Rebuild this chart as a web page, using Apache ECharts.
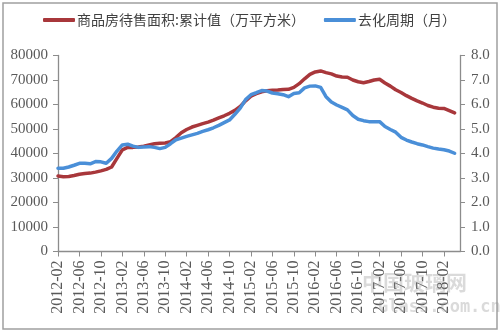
<!DOCTYPE html>
<html>
<head>
<meta charset="utf-8">
<script src="https://cdn.jsdelivr.net/npm/echarts@6/dist/echarts.min.js"></script>
<style>
html,body{margin:0;padding:0;background:#fff;}
#chart{width:500px;height:335px;}
</style>
</head>
<body>
<div id="chart"></div>
<script>
// Monthly categories 2012-02 .. 2018-05
const months = [
 '2012-02','2012-03','2012-04','2012-05','2012-06','2012-07','2012-08','2012-09','2012-10','2012-11','2012-12','2013-01',
 '2013-02','2013-03','2013-04','2013-05','2013-06','2013-07','2013-08','2013-09','2013-10','2013-11','2013-12','2014-01',
 '2014-02','2014-03','2014-04','2014-05','2014-06','2014-07','2014-08','2014-09','2014-10','2014-11','2014-12','2015-01',
 '2015-02','2015-03','2015-04','2015-05','2015-06','2015-07','2015-08','2015-09','2015-10','2015-11','2015-12','2016-01',
 '2016-02','2016-03','2016-04','2016-05','2016-06','2016-07','2016-08','2016-09','2016-10','2016-11','2016-12','2017-01',
 '2017-02','2017-03','2017-04','2017-05','2017-06','2017-07','2017-08','2017-09','2017-10','2017-11','2017-12','2018-01',
 '2018-02','2018-03','2018-04','2018-05'
];
const seriesNames = ['商品房待售面积:累计值（万平方米）', '去化周期（月）'];
// 商品房待售面积:累计值（万平方米）
const unsoldArea = [
 30800,30500,30600,31000,31500,31800,32000,32400,32900,33500,34500,38000,
 41500,42500,42500,42700,43000,43500,44000,44200,44300,44800,46500,48500,
 49800,50800,51500,52200,52800,53600,54500,55400,56400,57600,59200,61500,
 63400,64400,65200,65600,65800,65900,66100,66200,67000,68500,70500,72300,
 73300,73700,73000,72500,71600,71200,71100,70000,69300,68900,69400,70000,
 70300,68800,67500,66000,64900,63600,62500,61500,60600,59600,58900,58500,
 58400,57500,56600,null
];
// 去化周期（月）
const destockMonths = [
 3.40,3.40,3.45,3.52,3.60,3.60,3.58,3.67,3.66,3.60,3.80,4.10,
 4.35,4.38,4.30,4.25,4.27,4.28,4.25,4.20,4.25,4.40,4.56,4.63,
 4.70,4.76,4.82,4.90,4.97,5.05,5.15,5.26,5.37,5.60,5.85,6.20,
 6.40,6.48,6.57,6.55,6.47,6.44,6.40,6.32,6.45,6.48,6.68,6.75,
 6.76,6.70,6.32,6.10,5.98,5.88,5.78,5.55,5.40,5.34,5.30,5.30,
 5.30,5.10,4.98,4.87,4.66,4.55,4.47,4.40,4.35,4.28,4.22,4.18,
 4.15,4.10,4.01,null
];
const leftTicks = {min: 0, max: 80000, interval: 10000};
const rightTicks = {min: 0, max: 8, interval: 1};

const serif = '"Liberation Serif", "Times New Roman", serif';
const cjk = '"Noto Sans CJK SC", sans-serif';
const axisGray = '#8c8c8c';
const labelGray = '#595959';

const chart = echarts.init(document.getElementById('chart'), null, {renderer: 'canvas'});
chart.setOption({
  backgroundColor: '#fff',
  animation: false,
  legend: {
    top: 8, left: 38,
    itemWidth: 32, itemHeight: 4, itemGap: 19,
    icon: 'roundRect',
    textStyle: {fontFamily: cjk, fontSize: 14, color: '#404040', padding: [0,0,0,-3]},
    data: seriesNames
  },
  grid: {left: 58, right: 40, top: 55.5, bottom: 83.5, containLabel: false},
  xAxis: {
    type: 'category',
    data: months,
    boundaryGap: false,
    axisLine: {lineStyle: {color: axisGray, width: 1.3}},
    axisTick: {show: true, interval: 3, length: 5, inside: false, lineStyle: {color: axisGray}},
    axisLabel: {interval: 3, rotate: 90, fontFamily: serif, fontSize: 16, color: labelGray, margin: 9},
    splitLine: {show: false}
  },
  yAxis: [
    {
      type: 'value', position: 'left',
      min: leftTicks.min, max: leftTicks.max, interval: leftTicks.interval,
      axisLine: {show: true, lineStyle: {color: axisGray, width: 1.3}},
      axisTick: {show: true, length: 5, lineStyle: {color: axisGray}},
      axisLabel: {fontFamily: serif, fontSize: 15, color: labelGray, margin: 10,
        formatter: v => String(v)},
      splitLine: {show: false}
    },
    {
      type: 'value', position: 'right',
      min: rightTicks.min, max: rightTicks.max, interval: rightTicks.interval,
      axisLine: {show: true, lineStyle: {color: axisGray, width: 1.3}},
      axisTick: {show: true, length: 5, lineStyle: {color: axisGray}},
      axisLabel: {fontFamily: serif, fontSize: 15, color: labelGray, margin: 11,
        formatter: v => v.toFixed(1)},
      splitLine: {show: false}
    }
  ],
  series: [
    {
      name: seriesNames[0], type: 'line', yAxisIndex: 0,
      data: unsoldArea, showSymbol: false, symbol: 'none',
      lineStyle: {color: '#a8373b', width: 3.5, cap: 'round', join: 'round'},
      itemStyle: {color: '#a8373b'}
    },
    {
      name: seriesNames[1], type: 'line', yAxisIndex: 1,
      data: destockMonths, showSymbol: false, symbol: 'none',
      lineStyle: {color: '#4a8fd8', width: 3.5, cap: 'round', join: 'round'},
      itemStyle: {color: '#4a8fd8'}
    }
  ],
  graphic: [
    {type: 'rect', shape: {x: 3, y: 3, width: 494, height: 326}, silent: true,
      style: {fill: 'none', stroke: '#a0a0a0', lineWidth: 1.5}, z: -1},
    {type: 'text', left: 362, top: 272, silent: true, z: 10,
      style: {text: '中国玻璃网', font: 'bold 21px "Noto Sans CJK SC"', fill: 'rgba(150,150,150,0.35)'}},
    {type: 'text', left: 378, top: 299, silent: true, z: 10,
      style: {text: 'Glass.com.cn', font: 'bold 17px "DejaVu Sans Mono"', fill: 'rgba(150,150,150,0.35)'}}
  ]
});
</script>
</body>
</html>
